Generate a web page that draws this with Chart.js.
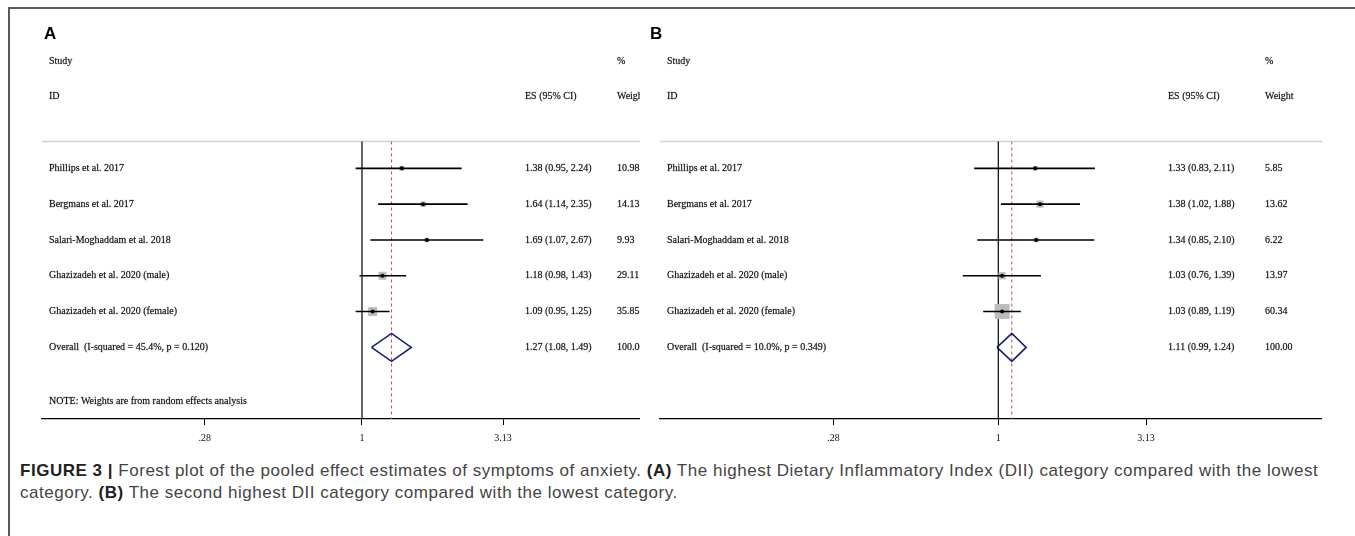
<!DOCTYPE html>
<html>
<head>
<meta charset="utf-8">
<title>Forest plot - anxiety</title>
<script src="https://cdn.jsdelivr.net/npm/chart.js@4.4.1/dist/chart.umd.min.js"></script>
<style>
    body { margin:0; background:#fff; width:1355px; height:536px; overflow:hidden; position:relative; }
    #frame { position:absolute; left:8px; top:7px; right:0; bottom:0; border-top:2px solid #5a5a5a; border-left:2px solid #5a5a5a; }
    #boxA { position:absolute; left:30px; top:20px; width:610px; height:429px; }
    #boxB { position:absolute; left:645px; top:20px; width:677px; height:429px; }
    #caption { position:absolute; left:20px; top:460px; width:1334px; font-family:"Liberation Sans", Arial, sans-serif; font-size:17px; letter-spacing:0.52px; line-height:22px; color:#444; white-space:nowrap; }
    #caption b { color:#222; }
</style>
</head>
<body>
<div id="frame"></div>
<div id="boxA"><canvas id="chartA"></canvas></div>
<div id="boxB"><canvas id="chartB"></canvas></div>
<div id="caption"><b>FIGURE 3 |</b> Forest plot of the pooled effect estimates of symptoms of anxiety. <b>(A)</b> The highest Dietary Inflammatory Index (DII) category compared with the lowest<br>category. <b>(B)</b> The second highest DII category compared with the lowest category.</div>
<script>
// studies (same in both panels)
var studies = ["Phillips et al. 2017", "Bergmans et al. 2017", "Salari-Moghaddam et al. 2018",
               "Ghazizadeh et al. 2020 (male)", "Ghazizadeh et al. 2020 (female)"];

// panel A: highest vs lowest DII
var esA = [1.38, 1.64, 1.69, 1.18, 1.09];
var loA = [0.95, 1.14, 1.07, 0.98, 0.95];
var hiA = [2.24, 2.35, 2.67, 1.43, 1.25];
var wA  = [10.98, 14.13, 9.93, 29.11, 35.85];
var overallA = [1.27, 1.08, 1.49];   // es, lo, hi
var hetA = "Overall  (I-squared = 45.4%, p = 0.120)";

// panel B: second highest vs lowest DII
var esB = [1.33, 1.38, 1.34, 1.03, 1.03];
var loB = [0.83, 1.02, 0.85, 0.76, 0.89];
var hiB = [2.11, 1.88, 2.10, 1.39, 1.19];
var wB  = [5.85, 13.62, 6.22, 13.97, 60.34];
var overallB = [1.11, 0.99, 1.24];
var hetB = "Overall  (I-squared = 10.0%, p = 0.349)";

var tickVals = [0.28, 1, 3.13];
var tickLabels = [".28", "1", "3.13"];

var serif = '"Liberation Serif", "Times New Roman", serif';

// texts of the forest plot: headers, study names, ES (95% CI), weights
var textPlugin = {
    id: 'forestText',
    afterDraw: function(chart) {
        var o = chart.options.plugins.forestText;
        var ctx = chart.ctx, y = chart.scales.y, L = chart.chartArea.left;
        function put(t, x, row) {
            ctx.fillText(t, L + x, y.getPixelForValue(row));
            ctx.strokeText(t, L + x, y.getPixelForValue(row));
        }
        ctx.save();
        ctx.textBaseline = 'middle';
        ctx.fillStyle = '#000';
        ctx.font = 'bold 17px "Liberation Sans", Arial, sans-serif';
        ctx.fillText(o.letter, L + o.letterX, y.getPixelForValue(-3.75));
        ctx.fillStyle = '#111';
        ctx.strokeStyle = 'rgba(0,0,0,0.45)';
        ctx.lineWidth = 0.4;
        ctx.font = '10px ' + serif;
        put("Study", o.labelX, -3);
        put("ID", o.labelX, -2);
        put("ES (95% CI)", o.esX, -2);
        put("%", o.wX, -3);
        put("Weight", o.wX, -2);
        for (var i = 0; i < studies.length; i++) {
            put(studies[i], o.labelX, i);
            put(o.es[i].toFixed(2) + " (" + o.lo[i].toFixed(2) + ", " + o.hi[i].toFixed(2) + ")", o.esX, i);
            put(o.w[i].toFixed(2), o.wX, i);
        }
        var n = studies.length;
        var ov = o.overall;
        put(o.het, o.labelX, n);
        put(ov[0].toFixed(2) + " (" + ov[1].toFixed(2) + ", " + ov[2].toFixed(2) + ")", o.esX, n);
        put("100.00", o.wX, n);
        if (o.note) put("NOTE: Weights are from random effects analysis", o.labelX, n + 1.5);
        ctx.restore();
    }
};

function forest(id, letter, es, lo, hi, w, overall, het, xmin, xmax, padLeft, boxK, cols, note) {
    var n = studies.length;
    var ci = [], pts = [];
    for (var i = 0; i < n; i++) {
        ci.push({x: lo[i], y: i}, {x: hi[i], y: i}, {x: null, y: null});
        pts.push({x: es[i], y: i});
    }
    var dh = 0.39;
    var diamond = [{x: overall[1], y: n}, {x: overall[0], y: n - dh}, {x: overall[2], y: n},
                   {x: overall[0], y: n + dh}, {x: overall[1], y: n}];
    new Chart(document.getElementById(id), {
        type: 'scatter',
        data: {
            datasets: [
                { data: pts, pointStyle: 'circle', pointRadius: 2, backgroundColor: '#000', borderWidth: 0 },
                { data: ci, showLine: true, spanGaps: false, borderColor: '#000', borderWidth: 1.6, pointRadius: 0 },
                { data: pts, pointStyle: 'rect', backgroundColor: '#bcbcbc', borderWidth: 0,
                  pointRadius: function(c) { return boxK * Math.sqrt(w[c.dataIndex]) / Math.SQRT2; } },
                { data: diamond, showLine: true, borderColor: '#1c1c74', borderWidth: 1.6, pointRadius: 0 },
                { data: [{x: 1, y: -0.75}, {x: 1, y: 7}], showLine: true, borderColor: '#000', borderWidth: 1.2, pointRadius: 0 },
                { data: [{x: overall[0], y: -0.75}, {x: overall[0], y: 7}], showLine: true, borderColor: '#b85050',
                  borderWidth: 1, borderDash: [3, 3], pointRadius: 0 },
                { data: [{x: xmin, y: -0.75}, {x: xmax, y: -0.75}], showLine: true, borderColor: '#d0d0d0',
                  borderWidth: 1.5, pointRadius: 0 }
            ]
        },
        options: {
            responsive: true,
            maintainAspectRatio: false,
            animation: false,
            layout: { autoPadding: false, padding: { top: 23, left: padLeft, right: 0, bottom: 0 } },
            plugins: {
                legend: { display: false },
                tooltip: { enabled: false },
                forestText: { letter: letter, letterX: cols[3], labelX: cols[0], esX: cols[1], wX: cols[2],
                              es: es, lo: lo, hi: hi, w: w, overall: overall, het: het, note: note }
            },
            scales: {
                x: {
                    type: 'logarithmic', min: xmin, max: xmax,
                    afterBuildTicks: function(s) { s.ticks = tickVals.map(function(v) { return {value: v}; }); },
                    afterFit: function(s) { s.height = 30; },
                    ticks: { callback: function(v, i) { return tickLabels[i]; }, autoSkip: false, maxRotation: 0,
                             font: { family: serif, size: 10 }, color: '#111', padding: 7 },
                    grid: { drawOnChartArea: false, drawTicks: true, tickLength: 6, color: '#000', lineWidth: 1 },
                    border: { display: true, color: '#000', width: 1.2 }
                },
                y: { type: 'linear', reverse: true, min: -3.5, max: 7, display: false }
            }
        },
        plugins: [textPlugin]
    });
}

// columns: [label, es, weight, letter] relative to plot left
forest('chartA', 'A', esA, loA, hiA, wA, overallA, hetA, 0.07506, 9.484, 12, 1.5, [7, 483, 575, 2], true);
forest('chartB', 'B', esB, loB, hiB, wB, overallB, hetB, 0.07329, 12.19, 15, 1.93, [7, 508, 605, -10], false);
</script>
</body>
</html>
